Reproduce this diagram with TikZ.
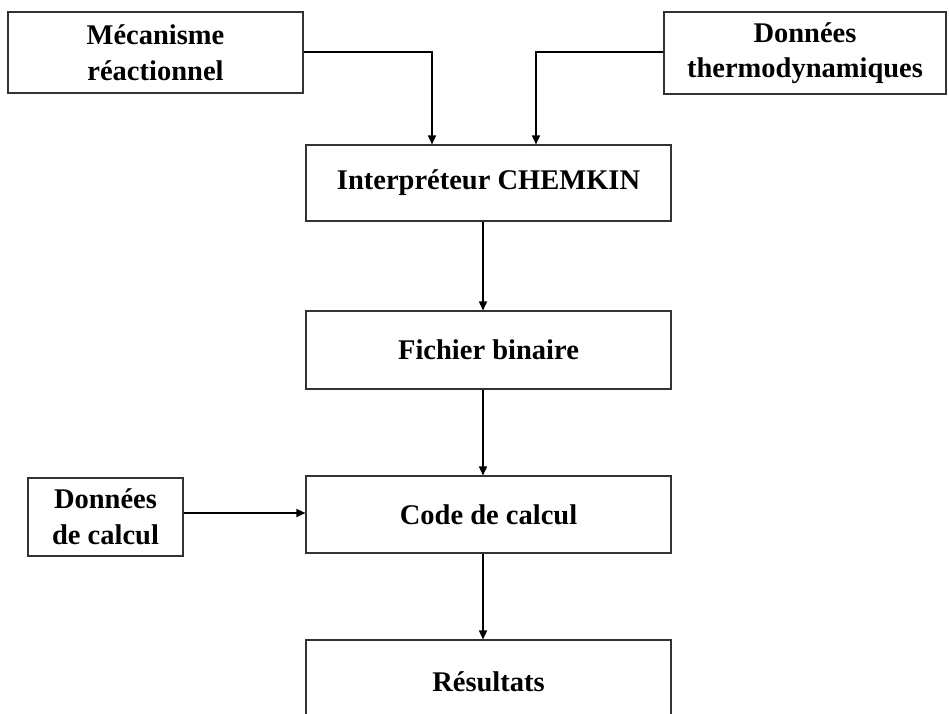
\documentclass[tikz,border=0pt]{standalone}
\usepackage{fontspec}
\setmainfont{Liberation Serif}
\usetikzlibrary{arrows.meta}
\begin{document}
\begin{tikzpicture}[x=1pt,y=-1pt,
  box/.style={draw=black!80,line width=1.1pt,rectangle,inner sep=0pt,align=center,
    font=\fontsize{28.5}{35.5}\selectfont\bfseries},
  conn/.style={line width=1.6pt,-{Triangle[length=9pt,width=8pt]}}]
\clip (0,0) rectangle (949,713);
\node[box,minimum width=295,minimum height=81] (meca) at (155.5,52.5) {Mécanisme\\réactionnel};
\node[box,minimum width=282,minimum height=82] (thermo) at (805,53) {Données\\thermodynamiques};
\node[box,minimum width=365,minimum height=76] (interp) at (488.5,183) {Interpréteur CHEMKIN};
\node[box,minimum width=365,minimum height=78] (fich) at (488.5,350) {Fichier binaire};
\node[box,minimum width=365,minimum height=77] (code) at (488.5,514.5) {Code de calcul};
\node[box,minimum width=155,minimum height=78] (dcalc) at (105.5,517) {Données\\de calcul};
\node[box,minimum width=365,minimum height=84] (res) at (488.5,682) {};
\node[font=\fontsize{28.5}{35.5}\selectfont\bfseries] (restxt) at (488.5,682) {Résultats};
\coordinate (ax) at (483,0);
\coordinate (bx) at (432,0);
\coordinate (cx) at (536,0);
\coordinate (ly) at (0,52);
\coordinate (dy) at (0,513);
\draw[conn] (meca.east |- ly) -| (interp.north -| bx);
\draw[conn] (thermo.west |- ly) -| (interp.north -| cx);
\draw[conn] (interp.south -| ax) -- (fich.north -| ax);
\draw[conn] (fich.south -| ax) -- (code.north -| ax);
\draw[conn] (code.south -| ax) -- (res.north -| ax);
\draw[conn] (dcalc.east |- dy) -- (code.west |- dy);
\end{tikzpicture}
\end{document}
